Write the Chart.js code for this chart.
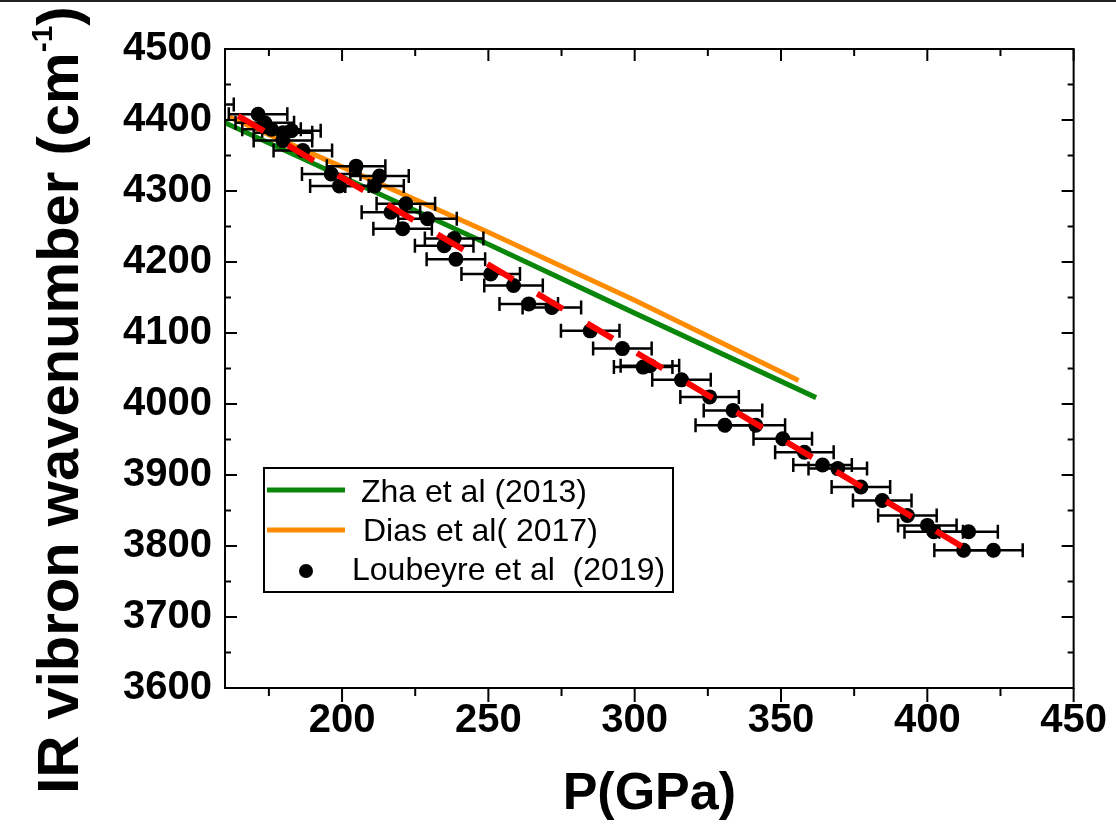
<!DOCTYPE html>
<html>
<head>
<meta charset="utf-8">
<script src="https://cdn.jsdelivr.net/npm/chart.js@4.4.1/dist/chart.umd.min.js"></script>
<style>
  html, body { margin: 0; padding: 0; background: #fff; }
  #wrap { width: 1116px; height: 826px; }
</style>
</head>
<body>
<div id="wrap"><canvas id="vibronChart" width="1116" height="826"></canvas></div>
<script>
// Courbes de référence (pression en GPa, nombre d'onde en cm-1)
const zhaP = [160, 200, 250, 300, 362];
const zhaW = [4396, 4320, 4225, 4128, 4009];
const diasP = [161, 200, 250, 300, 356];
const diasW = [4405, 4334, 4242, 4146, 4033];

// Mesures Loubeyre et al, avec barre d'erreur sur la pression
const loubeyreP = [153, 171.3, 173.6, 175.9, 179.8, 182.7, 179.8, 186.6, 196.3, 199.1,
  204.8, 212.8, 211.1, 216.7, 221.8, 220.7, 229.2, 234.9, 238.3, 238.9,
  250.8, 258.6, 263.8, 271.7, 284.8, 295.8, 302.9, 305.2, 316, 325.6,
  333.6, 330.8, 341.4, 350.6, 358, 364.2, 369.4, 377.3, 384.6, 393.2,
  400, 402.2, 414.1, 412.4, 422.6];
const loubeyreW = [4422, 4408, 4396, 4387, 4382, 4385, 4371, 4357, 4324, 4307,
  4335, 4321, 4307, 4270, 4282, 4247, 4261, 4223, 4233, 4204,
  4183, 4167, 4141, 4136, 4103, 4078, 4052, 4054, 4034, 4010,
  3991, 3970, 3970, 3951, 3932, 3914, 3909, 3883, 3864, 3843,
  3829, 3820, 3820, 3794, 3794];
const loubeyreErr = [10, 10, 10, 10, 10, 10, 10, 10, 10, 10,
  10, 10, 10, 10, 10, 10, 10, 10, 10, 10,
  10, 10, 10, 10, 10, 10, 10, 10, 10, 10,
  10, 10, 10, 10, 10, 10, 10, 10, 10, 10,
  10, 10, 10, 10, 10];

// Ajustement linéaire (tirets rouges)
const fitP = [164.5, 412];
const fitW = [4406, 3799];

// Graduations
const xTicks = [200, 250, 300, 350, 400, 450];
const xMinorTicks = [175, 225, 275, 325, 375, 425];
const yTicks = [3600, 3700, 3800, 3900, 4000, 4100, 4200, 4300, 4400, 4500];
const yMinorTicks = [3650, 3750, 3850, 3950, 4050, 4150, 4250, 4350, 4450];

const FONT = "'Liberation Sans', Arial, sans-serif";
const toXY = (xs, ys) => xs.map((x, i) => ({ x, y: ys[i] }));

// Cadre + graduations (intérieures en haut / gauche / droite, extérieures en bas)
const frameTicks = {
  id: 'frameTicks',
  afterDraw(chart) {
    const { ctx, chartArea: a, scales: { x, y } } = chart;
    ctx.save();
    ctx.strokeStyle = '#000';
    ctx.lineWidth = 2;
    ctx.strokeRect(a.left, a.top, a.right - a.left, a.bottom - a.top);
    const tick = (x1, y1, x2, y2) => {
      ctx.beginPath(); ctx.moveTo(x1, y1); ctx.lineTo(x2, y2); ctx.stroke();
    };
    xTicks.forEach(v => {
      const px = x.getPixelForValue(v);
      tick(px, a.bottom, px, a.bottom + 14);
      tick(px, a.top, px, a.top + 12);
    });
    xMinorTicks.forEach(v => {
      const px = x.getPixelForValue(v);
      tick(px, a.bottom, px, a.bottom + 8);
      tick(px, a.top, px, a.top + 7);
    });
    yTicks.forEach(v => {
      const py = y.getPixelForValue(v);
      tick(a.left, py, a.left + 12, py);
      tick(a.right, py, a.right - 12, py);
    });
    yMinorTicks.forEach(v => {
      const py = y.getPixelForValue(v);
      tick(a.left, py, a.left + 6, py);
      tick(a.right, py, a.right - 6, py);
    });
    // filet en haut de la figure
    ctx.fillStyle = '#222';
    ctx.fillRect(0, 0, chart.width, 2);
    ctx.restore();
  }
};

// Barres d'erreur horizontales, dessinées juste sous les points
const errorBars = {
  id: 'errorBars',
  beforeDatasetDraw(chart, args) {
    const ds = chart.data.datasets[args.index];
    if (!ds.xErr) return;
    const { ctx, chartArea: a, scales: { x, y } } = chart;
    ctx.save();
    ctx.beginPath();
    ctx.rect(a.left, a.top, a.right - a.left, a.bottom - a.top);
    ctx.clip();
    ctx.strokeStyle = '#000';
    ctx.lineWidth = 2.5;
    ds.data.forEach((pt, i) => {
      const x1 = x.getPixelForValue(pt.x - ds.xErr[i]);
      const x2 = x.getPixelForValue(pt.x + ds.xErr[i]);
      const py = y.getPixelForValue(pt.y);
      ctx.beginPath();
      ctx.moveTo(x1, py); ctx.lineTo(x2, py);
      ctx.moveTo(x1, py - 7); ctx.lineTo(x1, py + 7);
      ctx.moveTo(x2, py - 7); ctx.lineTo(x2, py + 7);
      ctx.stroke();
    });
    ctx.restore();
  }
};

// Légende encadrée dans la zone du graphique
const legendBox = {
  id: 'legendBox',
  afterDraw(chart) {
    const { ctx } = chart;
    const ds = chart.data.datasets;
    ctx.save();
    ctx.fillStyle = '#fff';
    ctx.fillRect(264, 468, 409, 124);
    ctx.strokeStyle = '#000';
    ctx.lineWidth = 2;
    ctx.strokeRect(264, 468, 409, 124);

    ctx.lineWidth = 5;
    ctx.strokeStyle = ds[0].borderColor;
    ctx.beginPath(); ctx.moveTo(267, 490); ctx.lineTo(345, 490); ctx.stroke();
    ctx.strokeStyle = ds[1].borderColor;
    ctx.beginPath(); ctx.moveTo(267, 530); ctx.lineTo(345, 530); ctx.stroke();
    ctx.fillStyle = '#000';
    ctx.beginPath(); ctx.arc(306, 571, 7, 0, Math.PI * 2); ctx.fill();

    ctx.font = `32px ${FONT}`;
    ctx.textBaseline = 'alphabetic';
    ctx.fillText(ds[0].label, 361, 502);
    ctx.fillText(ds[1].label, 363, 541);
    ctx.fillText(ds[2].label, 352, 580);
    ctx.restore();
  }
};

// Titre de l'axe Y avec exposant
const yTitle = {
  id: 'yTitle',
  afterDraw(chart) {
    const { ctx } = chart;
    const big = `bold 58px ${FONT}`;
    const small = `bold 30px ${FONT}`;
    const main = 'IR vibron wavenumber (cm', sup = '-1', end = ')';
    ctx.save();
    ctx.font = big;
    const w1 = ctx.measureText(main).width;
    const w3 = ctx.measureText(end).width;
    ctx.font = small;
    const w2 = ctx.measureText(sup).width;
    const total = w1 + w2 + w3;
    ctx.translate(78, 400);
    ctx.rotate(-Math.PI / 2);
    ctx.fillStyle = '#000';
    ctx.textAlign = 'left';
    ctx.textBaseline = 'alphabetic';
    let u = -total / 2;
    ctx.font = big; ctx.fillText(main, u, 0); u += w1;
    ctx.font = small; ctx.fillText(sup, u, -26); u += w2;
    ctx.font = big; ctx.fillText(end, u, 0);
    ctx.restore();
  }
};

new Chart(document.getElementById("vibronChart"), {
  type: 'scatter',
  data: {
    datasets: [
      { label: 'Zha et al (2013)', data: toXY(zhaP, zhaW), showLine: true,
        borderColor: '#0a860a', borderWidth: 5, pointRadius: 0, order: 3 },
      { label: 'Dias et al( 2017)', data: toXY(diasP, diasW), showLine: true,
        borderColor: '#ff8c00', borderWidth: 5, pointRadius: 0, order: 2 },
      { label: 'Loubeyre et al  (2019)', data: toXY(loubeyreP, loubeyreW), xErr: loubeyreErr,
        pointRadius: 7.5, pointBackgroundColor: '#000', pointBorderWidth: 0, clip: 0, order: 1 },
      { label: 'fit', data: toXY(fitP, fitW), showLine: true,
        borderColor: '#ff0000', borderWidth: 6, borderDash: [30, 28], pointRadius: 0, order: 0 }
    ]
  },
  options: {
    responsive: false,
    animation: false,
    layout: { padding: { top: 49, right: 40, left: 0, bottom: 0 } },
    plugins: { legend: { display: false }, tooltip: { enabled: false } },
    scales: {
      x: {
        type: 'linear', min: 160, max: 450,
        afterBuildTicks: s => { s.ticks = xTicks.map(v => ({ value: v })); },
        afterFit: s => { s.height = 138; },
        grid: { display: false, drawTicks: false },
        border: { display: false },
        ticks: { color: '#000', padding: 9, maxRotation: 0, autoSkip: false,
                 callback: v => String(v),
                 font: { family: FONT, size: 40, weight: 'bold' } },
        title: { display: true, text: 'P(GPa)', color: '#000', padding: 0,
                 font: { family: FONT, size: 52, weight: 'bold' } }
      },
      y: {
        type: 'linear', min: 3600, max: 4500,
        afterBuildTicks: s => { s.ticks = yTicks.map(v => ({ value: v })); },
        afterFit: s => { s.width = 225; },
        grid: { display: false, drawTicks: false },
        border: { display: false },
        ticks: { color: '#000', padding: 13, autoSkip: false,
                 callback: v => String(v),
                 font: { family: FONT, size: 40, weight: 'bold' } }
      }
    }
  },
  plugins: [frameTicks, errorBars, legendBox, yTitle]
});
</script>
</body>
</html>
